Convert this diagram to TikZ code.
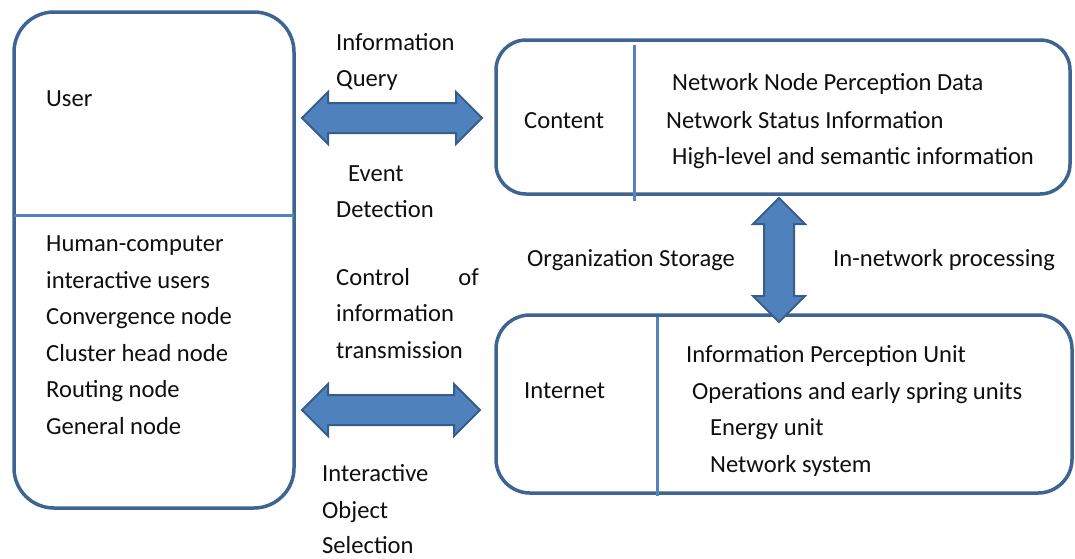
\documentclass[tikz,border=0pt]{standalone}
\usepackage{fontspec}
\setmainfont{Carlito}
\usetikzlibrary{shapes.arrows}
\definecolor{boxline}{RGB}{62,100,145}
\definecolor{divline}{RGB}{84,130,190}
\definecolor{arrowfill}{RGB}{79,129,189}
\definecolor{arrowline}{RGB}{56,93,138}
\definecolor{ink}{RGB}{15,15,15}
\tikzset{
  panel/.style={draw=boxline, line width=3.5pt, rounded corners=#1, inner sep=0pt},
  divider/.style={draw=divline, line width=3pt},
  blockarrow/.style={double arrow, draw=arrowline, fill=arrowfill, line width=2pt,
    inner xsep=0pt, inner ysep=14pt, text height=0pt, text depth=0pt,
    double arrow head extend=11pt, minimum width=50pt},
  lbl/.style={anchor=base west, inner sep=0pt, text=ink, font=\fontsize{24.6}{30}\selectfont},
  rlbl/.style={lbl, anchor=base east},
}
\begin{document}
\begin{tikzpicture}[x=1pt,y=-1pt]
\useasboundingbox (0,0) rectangle (1075,558);

% three panels
\node[panel=40pt, minimum width=280pt, minimum height=496pt] (user) at (154,260) {};
\node[panel=30pt, minimum width=574pt, minimum height=154pt] (content) at (783,117) {};
\node[panel=34pt, minimum width=576pt, minimum height=178pt] (internet) at (784,404) {};

% dividers inside the panels
\draw[divider] (14,215) -- (294,215);
\draw[divider] (634,45) -- (634,201);
\draw[divider] (657,317) -- (657,496);

% block arrows between the panels
\node[blockarrow, minimum height=180pt] (qarrow) at (392,118) {};
\node[blockarrow, minimum height=178pt] (carrow) at (391,410) {};
\node[blockarrow, minimum height=124pt, rotate=90] (varrow) at (779,260) {};

% user panel
\node[lbl] (tuser) at (46,106) {User};
\node[lbl] (t1) at (46,251) {Human-computer};
\node[lbl] (t2) at (46,288) {interactive users};
\node[lbl] (t3) at (46,324.5) {Convergence node};
\node[lbl] (t4) at (46,361) {Cluster head node};
\node[lbl] (t5) at (46,397.5) {Routing node};
\node[lbl] (t6) at (46,434) {General node};

% arrow captions
\node[lbl] (q1) at (336,50) {Information};
\node[lbl] (q2) at (336,86) {Query};
\node[lbl] (e1) at (348,181) {Event};
\node[lbl] (e2) at (336,217) {Detection};
\node[lbl] (c1) at (336,285) {Control};
\node[rlbl] (c1b) at (479,285) {of};
\node[lbl] (c2) at (336,321.5) {information};
\node[lbl] (c3) at (336,358) {transmission};
\node[lbl] (s1) at (322,481) {Interactive};
\node[lbl] (s2) at (322,518) {Object};
\node[lbl] (s3) at (322,553) {Selection};
\node[lbl] (os) at (527,266) {Organization Storage};
\node[lbl] (inp) at (833,266) {In-network processing};

% content panel
\node[lbl] (tcontent) at (524,128) {Content};
\node[lbl] (n1) at (672,90) {Network Node Perception Data};
\node[lbl] (n2) at (666,128) {Network Status Information};
\node[lbl] (n3) at (672,164) {High-level and semantic information};

% internet panel
\node[lbl] (tinternet) at (524,398) {Internet};
\node[lbl] (i1) at (686,362) {Information Perception Unit};
\node[lbl] (i2) at (692,399) {Operations and early spring units};
\node[lbl] (i3) at (710,435) {Energy unit};
\node[lbl] (i4) at (710,472) {Network system};
\end{tikzpicture}
\end{document}
